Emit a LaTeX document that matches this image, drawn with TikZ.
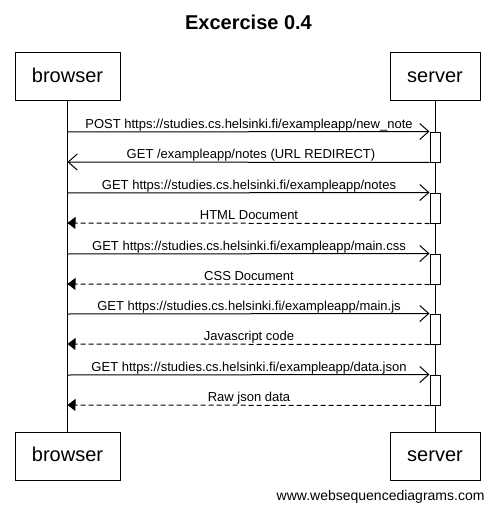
\documentclass[tikz,border=0pt]{standalone}
\usepackage{fontspec}
\setmainfont[Ligatures=NoCommon]{Liberation Sans}
\usetikzlibrary{arrows.meta}
\begin{document}
\begin{tikzpicture}[x=1pt,y=-1pt,line width=1pt,
  part/.style={draw,fill=white,minimum height=48pt,inner sep=0pt,
    font=\fontsize{20}{24}\selectfont,text height=14.3pt,text depth=4.2pt},
  act/.style={draw,fill=white,minimum width=10pt,inner sep=0pt},
  lbl/.style={font=\fontsize{13}{15}\selectfont,inner sep=0pt,anchor=base},
  req/.style={-{Straight Barb[length=9pt,width=16pt]}},
  resp/.style={dash pattern=on 5pt off 3pt,-{Triangle[length=8pt,width=12pt]}}]
\useasboundingbox (0,0) rectangle (495,516);
% title
\node[font=\fontsize{20}{24}\selectfont\bfseries,inner sep=0pt,anchor=base] (title) at (248.5,30) {Excercise 0.4};
% participants
\node[part,minimum width=105pt] (bt) at (67.5,77) {browser};
\node[part,minimum width=90pt] (st) at (435,77) {server};
\node[part,minimum width=105pt] (bb) at (67.5,456) {browser};
\node[part,minimum width=90pt] (sb) at (435,456) {server};
% lifelines
\draw (bt.south) -- (bb.north);
\draw (st.south) -- (sb.north);
% activation boxes
\node[act,minimum height=30pt] (a1) at (435,147) {};
\node[act,minimum height=30pt] (a2) at (435,208) {};
\node[act,minimum height=30pt] (a3) at (435,269) {};
\node[act,minimum height=30pt] (a4) at (435,329) {};
\node[act,minimum height=30pt] (a5) at (435,390) {};
% browser-side points
\coordinate (b1) at (67.5,132);
\coordinate (c1) at (67.5,162);
\coordinate (b2) at (67.5,193);
\coordinate (c2) at (67.5,223);
\coordinate (b3) at (67.5,254);
\coordinate (c3) at (67.5,284);
\coordinate (b4) at (67.5,314);
\coordinate (c4) at (67.5,344);
\coordinate (b5) at (67.5,375);
\coordinate (c5) at (67.5,405);
% messages
\draw[req] (b1) -- (a1.north west);
\node[lbl] (l1) at (249,128.5) {POST https://studies.cs.helsinki.fi/exampleapp/new\_note};
\draw[req] (a1.south west) -- (c1);
\node[lbl] (m1) at (251,158.5) {GET /exampleapp/notes (URL REDIRECT)};
\draw[req] (b2) -- (a2.north west);
\node[lbl] (l2) at (249,189.5) {GET https://studies.cs.helsinki.fi/exampleapp/notes};
\draw[resp] (a2.south west) -- (c2);
\node[lbl] (m2) at (249,219.5) {HTML Document};
\draw[req] (b3) -- (a3.north west);
\node[lbl] (l3) at (249,250.5) {GET https://studies.cs.helsinki.fi/exampleapp/main.css};
\draw[resp] (a3.south west) -- (c3);
\node[lbl] (m3) at (249,280.5) {CSS Document};
\draw[req] (b4) -- (a4.north west);
\node[lbl] (l4) at (249,310.5) {GET https://studies.cs.helsinki.fi/exampleapp/main.js};
\draw[resp] (a4.south west) -- (c4);
\node[lbl] (m4) at (249,340.5) {Javascript code};
\draw[req] (b5) -- (a5.north west);
\node[lbl] (l5) at (249,371.5) {GET https://studies.cs.helsinki.fi/exampleapp/data.json};
\draw[resp] (a5.south west) -- (c5);
\node[lbl] (m5) at (249,401.5) {Raw json data};
% footer
\node[font=\fontsize{14}{16}\selectfont,inner sep=0pt,anchor=base east] (foot) at (485,500) {www.websequencediagrams.com};
\end{tikzpicture}
\end{document}
